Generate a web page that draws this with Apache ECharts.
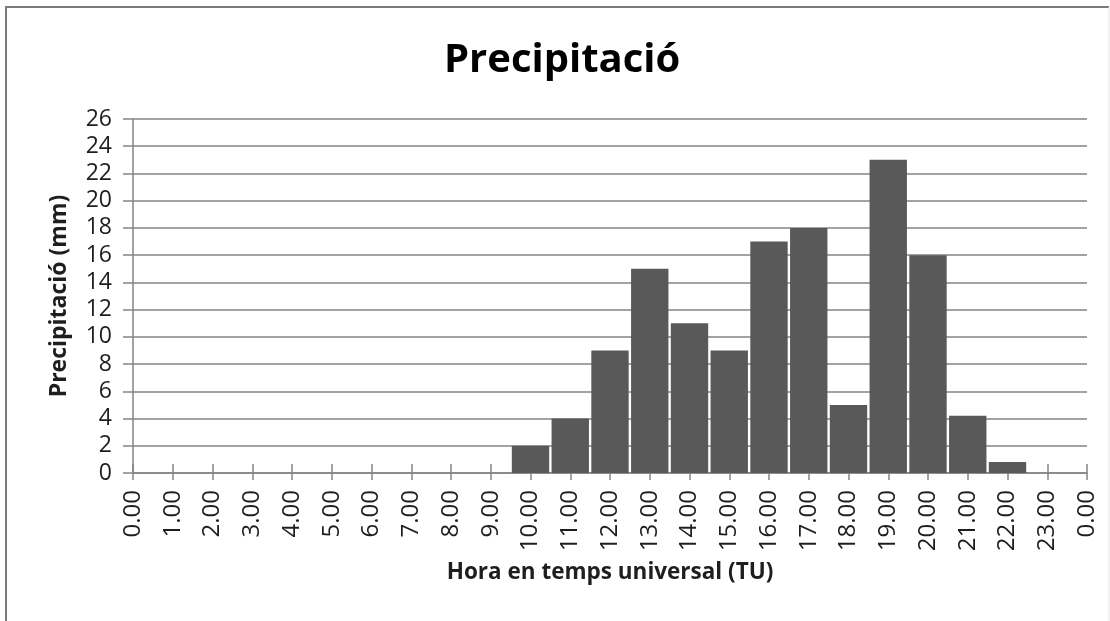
<!DOCTYPE html>
<html>
<head>
<meta charset="utf-8">
<script src="https://cdn.jsdelivr.net/npm/echarts@6/dist/echarts.min.js"></script>
<style>
  html, body { margin: 0; padding: 0; background: #fff; }
  #chart { width: 1110px; height: 621px; }
</style>
</head>
<body>
<div id="chart"></div>
<script>
// hour labels (last tick wraps to 0.00 again)
var hours = ['0.00', '1.00', '2.00', '3.00', '4.00', '5.00', '6.00', '7.00', '8.00', '9.00',
    '10.00', '11.00', '12.00', '13.00', '14.00', '15.00', '16.00', '17.00', '18.00', '19.00',
    '20.00', '21.00', '22.00', '23.00', '0.00']
// precipitation (mm) per hour
var rain = [0, 0, 0, 0, 0, 0, 0, 0, 0, 0,
    2, 4, 9, 15, 11, 9, 17, 18, 5, 23,
    16, 4.2, 0.8, 0, 0]
var yTicks = { min: 0, max: 26, step: 2 }

var chart = echarts.init(document.getElementById('chart'))

var gridColor = '#858585'
var textColor = '#1e1e1e'

var option = {
    animation: false,
    backgroundColor: '#fff',
    title: {
        text: 'Precipitació',
        left: 439,
        top: 36,
        textStyle: {
            fontFamily: 'Open Sans',
            fontWeight: 'bold',
            fontSize: 40,
            color: '#000'
        }
    },
    graphic: [{
        // outer chart frame, left and top edges
        type: 'polyline',
        shape: { points: [[6, 640], [6, 7], [1109, 7]] },
        style: { fill: 'none', stroke: '#7a7a7a', lineWidth: 2 },
        silent: true
    }, {
        // faint right edge
        type: 'line',
        shape: { x1: 1109, y1: 7, x2: 1109, y2: 640 },
        style: { stroke: '#e4e4e4', lineWidth: 1 },
        silent: true
    }],
    grid: {
        left: 133,
        right: 23,
        top: 119,
        bottom: 148
    },
    xAxis: [{
        type: 'category',
        data: hours,
        boundaryGap: false,
        position: 'bottom',
        name: 'Hora en temps universal (TU)',
        nameLocation: 'middle',
        nameGap: 88,
        nameTextStyle: {
            fontFamily: 'Open Sans',
            fontWeight: 'bold',
            fontSize: 22.5,
            color: textColor
        },
        axisLine: { lineStyle: { color: gridColor, width: 1.5 } },
        axisTick: { show: true, length: 7, interval: 0, lineStyle: { color: gridColor, width: 1.5 } },
        axisLabel: {
            interval: 0,
            rotate: 90,
            margin: 17,
            fontFamily: 'Open Sans',
            fontSize: 24,
            color: textColor
        },
        splitLine: { show: false }
    }, {
        // second axis only to draw the inner half of the cross ticks
        type: 'category',
        data: hours,
        boundaryGap: false,
        position: 'bottom',
        axisLine: { show: false },
        axisTick: { show: true, inside: true, length: 9, interval: 0, lineStyle: { color: gridColor, width: 1.5 } },
        axisLabel: { show: false },
        splitLine: { show: false }
    }],
    yAxis: {
        type: 'value',
        min: yTicks.min,
        max: yTicks.max,
        interval: yTicks.step,
        name: 'Precipitació (mm)',
        nameLocation: 'middle',
        nameGap: 62,
        nameTextStyle: {
            fontFamily: 'Open Sans',
            fontWeight: 'bold',
            fontSize: 23,
            color: textColor
        },
        axisLine: { show: true, lineStyle: { color: gridColor, width: 1.5 } },
        axisTick: { show: true, length: 10, lineStyle: { color: gridColor, width: 1.5 } },
        axisLabel: {
            margin: 21,
            fontFamily: 'Open Sans',
            fontSize: 23,
            color: textColor
        },
        splitLine: { lineStyle: { color: gridColor, width: 1.5 } }
    },
    series: [{
        type: 'bar',
        xAxisIndex: 0,
        data: rain,
        barCategoryGap: '6%',
        itemStyle: { color: '#595959' }
    }]
}

chart.setOption(option)
</script>
</body>
</html>
